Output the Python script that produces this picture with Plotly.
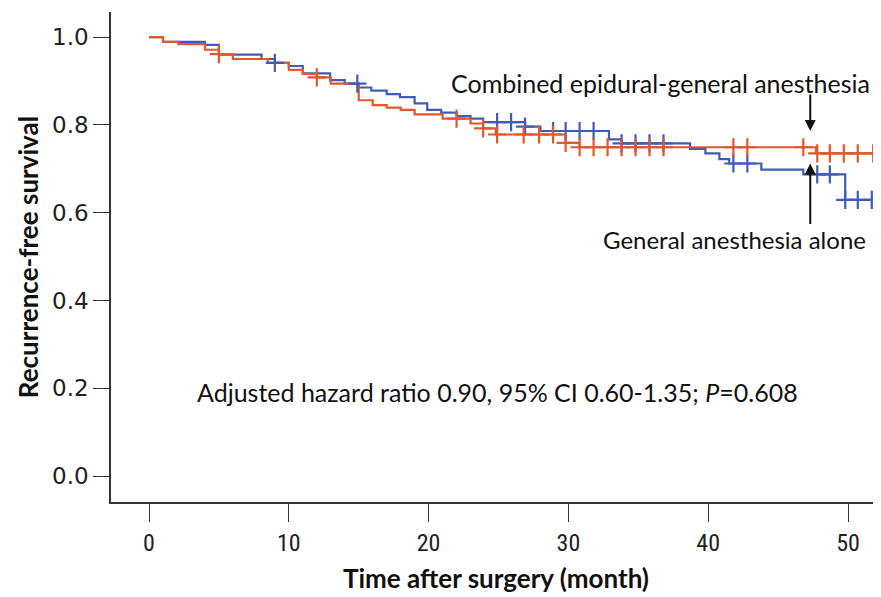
import plotly.graph_objects as go

# ---- data ----
# Combined epidural-general anesthesia (red)
red_t = [0, 1.0, 2.1, 4.0, 5.0, 6.0, 8.5, 10.0, 11.0, 12.0, 13.0, 15.0, 16.0, 17.0, 18.0, 19.0,
         21.0, 23.0, 23.9, 24.8, 29.8, 30.8, 47.7, 52.6]
red_s = [1.0, 0.989, 0.984, 0.971, 0.961, 0.950, 0.941, 0.925, 0.916, 0.908, 0.894, 0.856, 0.845,
         0.839, 0.834, 0.824, 0.814, 0.803, 0.792, 0.778, 0.759, 0.749, 0.735, 0.735]
red_cens_t = [5.0, 12.0, 22.0, 23.9, 24.9, 26.8, 27.9, 28.9, 29.8, 30.8, 31.8, 32.8, 33.8, 34.8,
              35.8, 36.8, 41.8, 42.8, 46.8, 47.8, 48.7, 49.7, 50.7, 51.8]

# General anesthesia alone (blue)
blue_t = [0, 1.0, 4.0, 5.0, 8.05, 9.0, 10.0, 11.0, 12.95, 14.0, 15.0, 15.9, 17.0, 17.95, 19.0,
          19.9, 20.9, 22.0, 23.0, 23.9, 26.9, 28.0, 32.9, 33.8, 38.7, 39.8, 40.8, 41.5, 43.8,
          46.8, 49.8, 52.6]
blue_s = [1.0, 0.989, 0.982, 0.960, 0.950, 0.941, 0.934, 0.917, 0.902, 0.894, 0.885, 0.878, 0.870,
          0.863, 0.849, 0.834, 0.828, 0.820, 0.814, 0.806, 0.796, 0.786, 0.767, 0.758, 0.745,
          0.735, 0.722, 0.712, 0.698, 0.687, 0.629, 0.629]
blue_cens_t = [9.0, 14.9, 24.9, 25.9, 26.9, 28.9, 29.8, 30.8, 31.8, 33.8, 34.8, 35.8, 36.8, 41.8,
               42.8, 47.8, 48.7, 49.8, 50.7, 51.7]

x_ticks = [0, 10, 20, 30, 40, 50]
y_ticks = [0.0, 0.2, 0.4, 0.6, 0.8, 1.0]
y_tick_labels = ["0.0", "0.2", "0.4", "0.6", "0.8", "1.0"]

RED = "#E0582C"
BLUE = "#3F5DB5"


def surv_at(ts, ss, t):
    v = ss[0]
    for ti, si in zip(ts, ss):
        if ti <= t:
            v = si
        else:
            break
    return v


fig = go.Figure()
fig.add_trace(go.Scatter(x=blue_t, y=blue_s, mode="lines", line=dict(color=BLUE, width=2.2, shape="hv"),
                         name="General anesthesia alone", showlegend=False))
fig.add_trace(go.Scatter(x=red_t, y=red_s, mode="lines", line=dict(color=RED, width=2.2, shape="hv"),
                         name="Combined epidural-general anesthesia", showlegend=False))
fig.add_trace(go.Scatter(x=blue_cens_t, y=[surv_at(blue_t, blue_s, t) for t in blue_cens_t], mode="markers",
                         marker=dict(symbol="cross-thin", size=13, line=dict(color=BLUE, width=2.2)),
                         showlegend=False))
fig.add_trace(go.Scatter(x=red_cens_t, y=[surv_at(red_t, red_s, t) for t in red_cens_t], mode="markers",
                         marker=dict(symbol="cross-thin", size=13, line=dict(color=RED, width=2.2)),
                         showlegend=False))

FONT = "Lato"
# the page body adds an 8px offset, so margins are shifted to compensate
fig.update_layout(
    width=881, height=597,
    margin=dict(l=103, r=8, t=4, b=103),
    plot_bgcolor="white", paper_bgcolor="white",
    font=dict(family=FONT, color="#222222"),
    xaxis=dict(range=[-2.72, 52.36], tickvals=x_ticks, ticks="outside", ticklen=18, tickwidth=1.3,
               tickcolor="#333333", showline=True, linecolor="#333333", linewidth=1.5, showgrid=False,
               zeroline=False,
               tickfont=dict(family="Liberation Sans Narrow, Roboto Condensed, Roboto", size=24, color="#222222"),
               title=dict(text="<b>Time after surgery (month)</b>", font=dict(size=26, color="#111111"),
                          standoff=14)),
    yaxis=dict(range=[-0.059, 1.057], tickvals=y_ticks, ticktext=y_tick_labels, ticks="outside", ticklen=16,
               tickwidth=1.3, tickcolor="#333333", showline=True, linecolor="#333333", linewidth=1.5,
               showgrid=False, zeroline=False,
               tickfont=dict(family="DejaVu Sans", size=23, color="#222222"),
               title=dict(text="<b>Recurrence-free survival</b>", font=dict(size=26, color="#111111"),
                          standoff=6)),
)

fig.add_annotation(x=36.6, y=0.895, text="Combined epidural-general anesthesia", showarrow=False,
                   font=dict(size=25, color="#111111"), xanchor="center", yanchor="middle")
fig.add_annotation(x=41.9, y=0.538, text="General anesthesia alone", showarrow=False,
                   font=dict(size=24, color="#111111"), xanchor="center", yanchor="middle")
fig.add_annotation(x=24.9, y=0.191, text="Adjusted hazard ratio 0.90, 95% CI 0.60-1.35; <i>P</i>=0.608",
                   showarrow=False, font=dict(size=25, color="#111111"), xanchor="center", yanchor="middle")
# arrows
fig.add_annotation(x=47.3, y=0.786, ax=0, ay=-38, text="", showarrow=True, arrowhead=2, arrowsize=1.1,
                   arrowwidth=2, arrowcolor="#111111", axref="pixel", ayref="pixel")
fig.add_annotation(x=47.3, y=0.712, ax=0, ay=62, text="", showarrow=True, arrowhead=2, arrowsize=1.1,
                   arrowwidth=2, arrowcolor="#111111", axref="pixel", ayref="pixel")

fig.write_html("out.html")
